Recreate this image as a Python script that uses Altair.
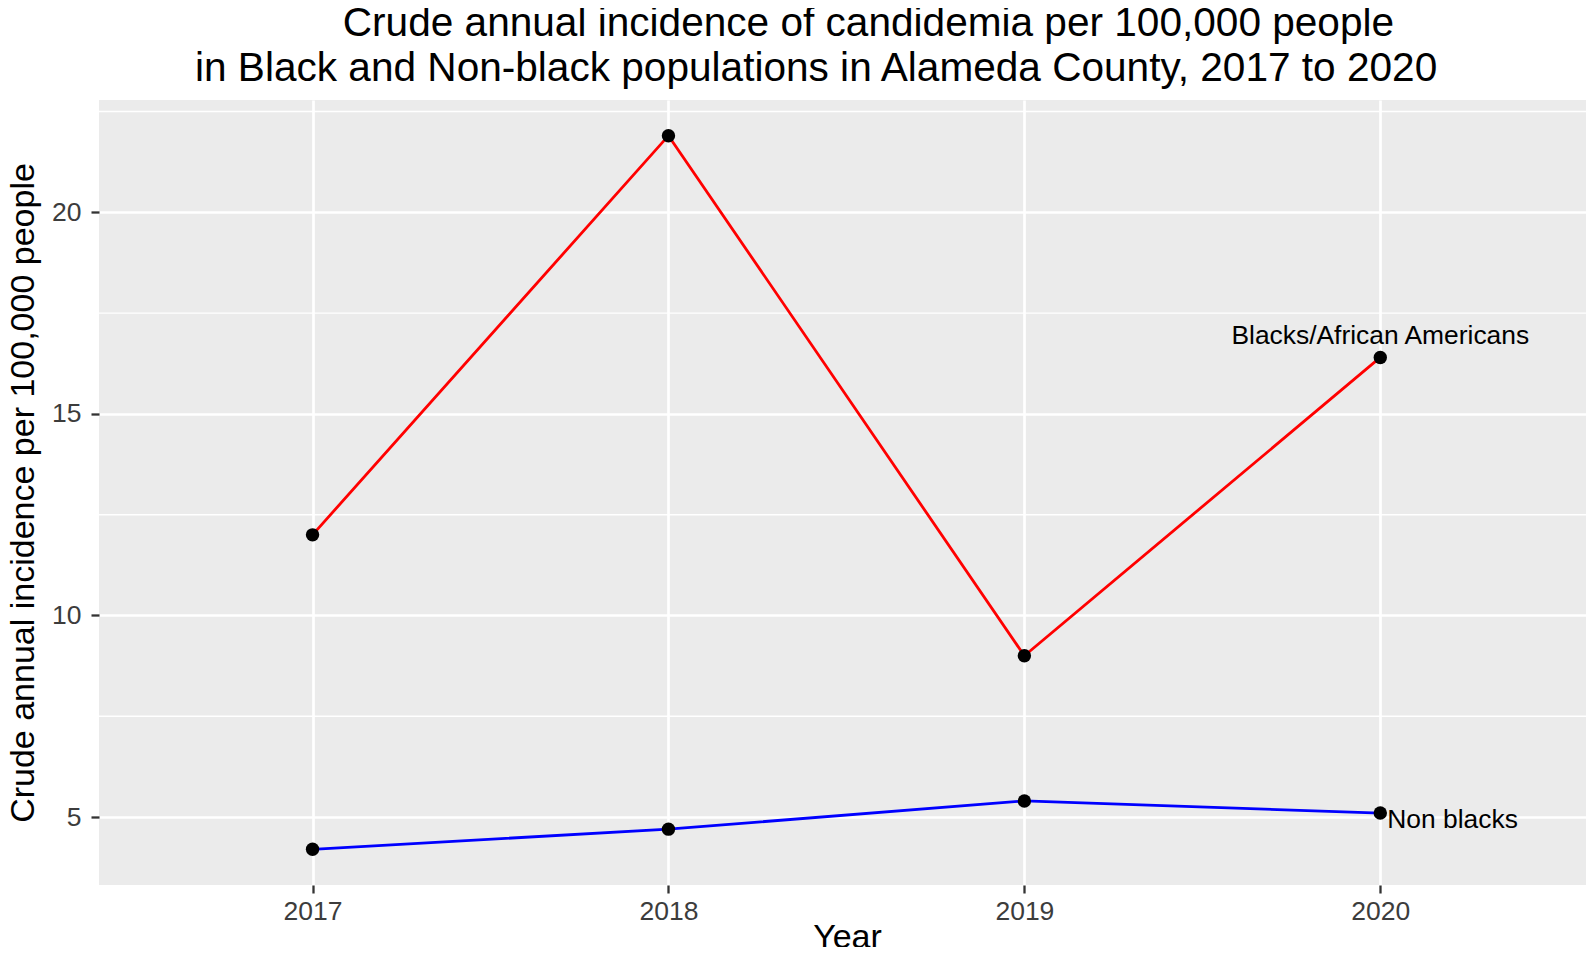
import altair as alt
import pandas as pd

FONT = "Liberation Sans"
# invisible lead-in so that the first title line sits right of the second, as in the reference
TITLE_LEAD = "\u2800\u2800\u2800\u00a0\u200a"

years = [2017, 2018, 2019, 2020]
black_rates = [12.0, 21.9, 9.0, 16.4]
nonblack_rates = [4.2, 4.7, 5.4, 5.1]
groups = ["Blacks/African Americans", "Non blacks"]
group_colors = ["#FF0000", "#0000FF"]
major_y = [5, 10, 15, 20]
minor_y = [7.5, 12.5, 17.5, 22.5]
y_domain = [3.315, 22.785]
x_domain = [2016.4, 2020.578]
title_lines = [
    "Crude annual incidence of candidemia per 100,000 people",
    "in Black and Non-black populations in Alameda County, 2017 to 2020",
]

df = pd.DataFrame({
    "Year": years * 2,
    "Rate": black_rates + nonblack_rates,
    "Group": [groups[0]] * len(years) + [groups[1]] * len(years),
})
minor_df = pd.DataFrame({"Rate": minor_y})

W, H = 1487, 785
LABEL_COLOR = "#3C3C3C"

x_enc = alt.X(
    "Year:Q",
    scale=alt.Scale(domain=x_domain, nice=False, zero=False),
    axis=alt.Axis(
        values=years, format="d", title="Year", grid=True,
        gridColor="white", gridWidth=2.7, domain=False,
        tickColor="#333333", tickWidth=2.3, tickSize=8,
        labelFontSize=26.5, labelColor=LABEL_COLOR, labelPadding=26,
        labelBaseline="alphabetic", labelFlush=False, labelOverlap=False,
        titleFontSize=34, titleColor="black", titleFontWeight="normal",
        titleBaseline="alphabetic", titleY=62, titleX=748,
    ),
)
y_enc = alt.Y(
    "Rate:Q",
    scale=alt.Scale(domain=y_domain, nice=False, zero=False),
    axis=alt.Axis(
        values=major_y, title="Crude annual incidence per 100,000 people",
        grid=True, gridColor="white", gridWidth=2.7, domain=False,
        tickColor="#333333", tickWidth=2.3, tickSize=8,
        labelFontSize=26.5, labelColor=LABEL_COLOR, labelPadding=10,
        labelOverlap=False,
        titleFontSize=34, titleColor="black", titleFontWeight="normal",
        titleX=-66, titleY=H / 2, titleAngle=270,
        titleBaseline="alphabetic", titleAlign="center",
    ),
)

minor = alt.Chart(minor_df).mark_rule(color="white", strokeWidth=1.4).encode(y=y_enc)

base = alt.Chart(df)
lines = base.mark_line(strokeWidth=2.8).encode(
    x=x_enc, y=y_enc,
    color=alt.Color("Group:N", scale=alt.Scale(domain=groups, range=group_colors), legend=None),
)
points = base.mark_circle(size=180, color="black", opacity=1).encode(x=x_enc, y=y_enc)

text_b = base.transform_filter(
    (alt.datum.Group == groups[0]) & (alt.datum.Year == years[-1])
).mark_text(align="center", baseline="alphabetic", dy=-13, fontSize=26.4, font=FONT, color="black").encode(
    x=x_enc, y=y_enc, text="Group:N"
)
text_n = base.transform_filter(
    (alt.datum.Group == groups[1]) & (alt.datum.Year == years[-1])
).mark_text(align="left", baseline="alphabetic", dx=7, dy=14.5, fontSize=26.4, font=FONT, color="black").encode(
    x=x_enc, y=y_enc, text="Group:N"
)

chart = alt.layer(minor, lines, points, text_b, text_n).properties(
    width=W, height=H,
    title=alt.Title(
        text=[TITLE_LEAD + title_lines[0], title_lines[1]],
        fontSize=40.6, font=FONT, color="black", fontWeight="normal",
        anchor="middle", frame="group", lineHeight=45, baseline="top",
        offset=10, dx=-26.4,
    ),
    autosize=alt.AutoSizeParams(type="none"),
    padding={"left": 91, "top": 92, "right": 0, "bottom": 62},
).configure_view(fill="#EBEBEB", stroke=None).configure_axis(
    labelFont=FONT, titleFont=FONT
)

chart.save("out.html", embed_options={"renderer": "svg", "actions": False})
